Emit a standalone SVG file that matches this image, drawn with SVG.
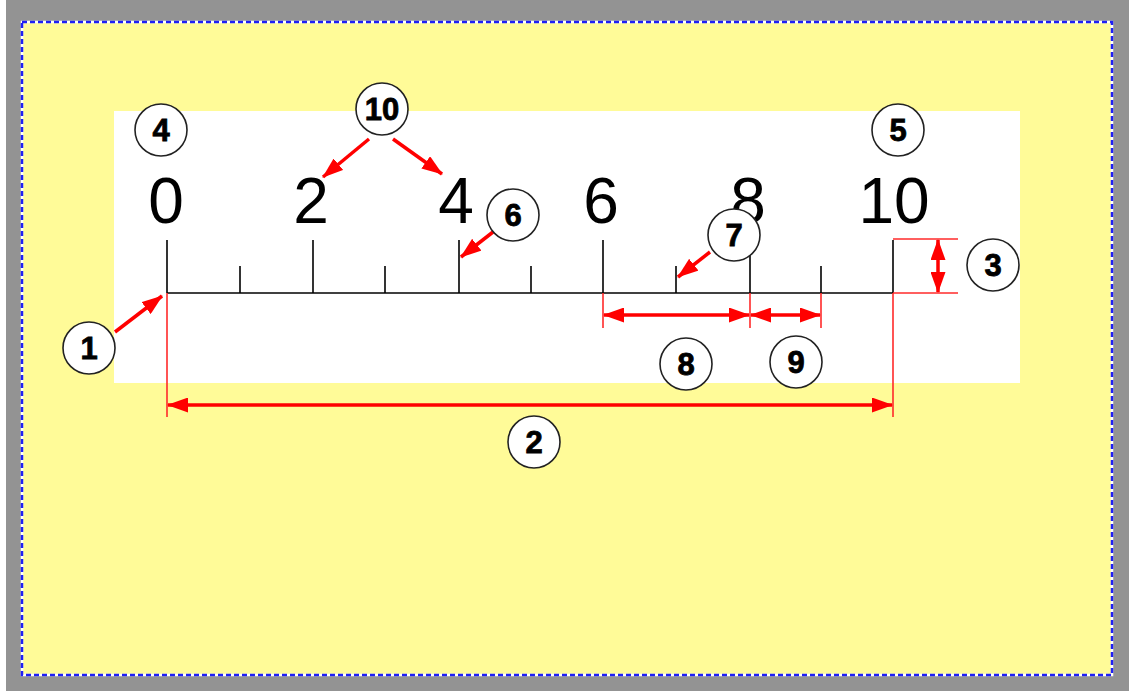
<svg xmlns="http://www.w3.org/2000/svg" width="1129" height="691" viewBox="0 0 1129 691">
<defs>
<style>
.tick{stroke:#000;stroke-width:1.6;fill:none}
.num{font-family:"Liberation Sans",Arial,sans-serif;font-size:64px;fill:#000;text-anchor:middle}
.ext{stroke:#ff2a2a;stroke-width:1.6;fill:none}
.dim{stroke:#ff0000;stroke-width:3.5;fill:none;marker-start:url(#ah);marker-end:url(#ah)}
.ptr{stroke:#ff0000;stroke-width:3.5;fill:none;marker-end:url(#ah)}
.cir{fill:#fff;stroke:#222;stroke-width:1.6}
.lbl{font-family:"Liberation Sans",Arial,sans-serif;font-size:31px;font-weight:bold;fill:#000;stroke:#000;stroke-width:0.8;text-anchor:middle}
</style>
<marker id="ah" markerUnits="userSpaceOnUse" markerWidth="21" markerHeight="15" refX="20" refY="7.5" orient="auto-start-reverse" viewBox="0 0 21 15">
<path d="M0,0 L21,7.5 L0,15 z" fill="#ff0000"/>
</marker>
</defs>
<rect x="0" y="0" width="1129" height="691" fill="#fff"/>
<rect x="6" y="0" width="1123" height="691" fill="#939393"/>
<rect x="22" y="22" width="1090" height="653" fill="#fffb98" stroke="#fff" stroke-width="2.5"/>
<rect x="22" y="22" width="1090" height="653" fill="none" stroke="#1f1ff5" stroke-width="2.5" stroke-dasharray="5 3"/>
<rect x="114" y="111" width="906" height="272" fill="#fff"/>

<g id="ruler">
<line class="tick" x1="167" y1="293" x2="893" y2="293"/>
<line class="tick" x1="167" y1="240" x2="167" y2="293"/>
<line class="tick" x1="240" y1="266" x2="240" y2="293"/>
<line class="tick" x1="313" y1="240" x2="313" y2="293"/>
<line class="tick" x1="385" y1="266" x2="385" y2="293"/>
<line class="tick" x1="459" y1="240" x2="459" y2="293"/>
<line class="tick" x1="531" y1="266" x2="531" y2="293"/>
<line class="tick" x1="603" y1="240" x2="603" y2="293"/>
<line class="tick" x1="676" y1="266" x2="676" y2="293"/>
<line class="tick" x1="750" y1="240" x2="750" y2="293"/>
<line class="tick" x1="821" y1="266" x2="821" y2="293"/>
<line class="tick" x1="893" y1="240" x2="893" y2="293"/>
<text class="num" x="166" y="223">0</text>
<text class="num" x="311" y="223">2</text>
<text class="num" x="456" y="223">4</text>
<text class="num" x="601" y="223">6</text>
<text class="num" x="748" y="223">8</text>
<text class="num" x="894" y="223">10</text>
</g>

<g id="connectors">
<line class="ext" x1="167" y1="293" x2="167" y2="417"/>
<line class="ext" x1="893" y1="293" x2="893" y2="417"/>
<line class="ext" x1="603" y1="293" x2="603" y2="328"/>
<line class="ext" x1="750" y1="293" x2="750" y2="328"/>
<line class="ext" x1="821" y1="293" x2="821" y2="328"/>
<line class="ext" x1="893" y1="239" x2="958" y2="239"/>
<line class="ext" x1="893" y1="293" x2="958" y2="293"/>
<line class="dim" x1="168" y1="405" x2="892" y2="405"/>
<line class="dim" x1="604" y1="315" x2="749" y2="315"/>
<line class="dim" x1="751" y1="315" x2="820" y2="315"/>
<line class="dim" x1="938" y1="240" x2="938" y2="292"/>
<line class="ptr" x1="115" y1="332" x2="162" y2="296"/>
<line class="ptr" x1="369" y1="139" x2="323" y2="177"/>
<line class="ptr" x1="393" y1="139" x2="442" y2="174"/>
<line class="ptr" x1="493" y1="232" x2="461" y2="257"/>
<line class="ptr" x1="710" y1="252" x2="678" y2="277"/>
</g>

<g id="c1"><circle class="cir" cx="89" cy="348" r="26"/><text class="lbl" x="89" y="359">1</text></g>
<g id="c2"><circle class="cir" cx="534" cy="442" r="26"/><text class="lbl" x="534" y="453">2</text></g>
<g id="c3"><circle class="cir" cx="993" cy="265" r="26"/><text class="lbl" x="993" y="276">3</text></g>
<g id="c4"><circle class="cir" cx="161" cy="130" r="26"/><text class="lbl" x="161" y="141">4</text></g>
<g id="c5"><circle class="cir" cx="898" cy="130" r="26"/><text class="lbl" x="898" y="141">5</text></g>
<g id="c6"><circle class="cir" cx="513" cy="215" r="26"/><text class="lbl" x="513" y="226">6</text></g>
<g id="c7"><circle class="cir" cx="734" cy="235" r="26"/><text class="lbl" x="734" y="246">7</text></g>
<g id="c8"><circle class="cir" cx="686" cy="364" r="26"/><text class="lbl" x="686" y="375">8</text></g>
<g id="c9"><circle class="cir" cx="796" cy="362" r="26"/><text class="lbl" x="796" y="373">9</text></g>
<g id="c10"><circle class="cir" cx="382" cy="109" r="26"/><text class="lbl" x="382" y="120">10</text></g>
</svg>
